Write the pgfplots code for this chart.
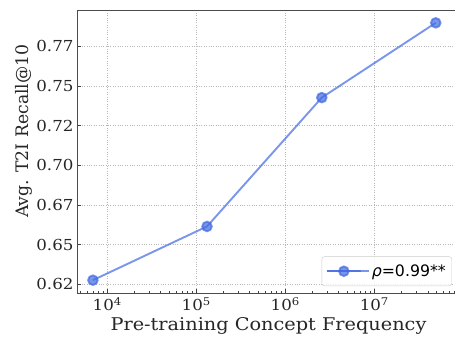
\documentclass[border=0pt]{standalone}
\usepackage{pgfplots}
\pgfplotsset{compat=1.18}
\usepackage{fontspec}
\setmainfont{DejaVu Serif}[FakeStretch=1.1]
\newfontfamily\ylabfont{DejaVu Serif}
\newfontfamily\legendfont{DejaVu Sans}
\definecolor{lineblue}{RGB}{65,105,225}

\begin{document}
\begin{tikzpicture}[x=1bp,y=1bp]
\path[use as bounding box] (0,0) rectangle (455,337);
\begin{axis}[
  at={(77bp,44bp)}, anchor=south west,
  scale only axis, width=383bp, height=283bp,
  xmode=log, xmin=4571, xmax=9.18e7,
  ymin=0.6194, ymax=0.798,
  xtick={1e4,1e5,1e6,1e7},
  xticklabels={10\textsuperscript{4},10\textsuperscript{5},10\textsuperscript{6},10\textsuperscript{7}},
  minor xtick={5000,6000,7000,8000,9000,
    20000,30000,40000,50000,60000,70000,80000,90000,
    2e5,3e5,4e5,5e5,6e5,7e5,8e5,9e5,
    2e6,3e6,4e6,5e6,6e6,7e6,8e6,9e6,
    2e7,3e7,4e7,5e7,6e7,7e7,8e7,9e7},
  ytick={0.625,0.65,0.675,0.7,0.725,0.75,0.775},
  yticklabels={0.62,0.65,0.67,0.70,0.72,0.75,0.77},
  tick align=inside,
  xtick pos=left, ytick pos=left,
  major tick length=4bp, minor tick length=2.2bp,
  tick style={black!75, line width=0.8bp},
  axis line style={black!70, line width=0.9bp},
  xmajorgrids, ymajorgrids,
  major grid style={dotted, black!28, line width=0.6bp},
  tick label style={font=\fontsize{15.2}{18}\selectfont, black!85},
  xticklabel style={yshift=-1bp},
  label style={black!85},
  xlabel={Pre-training Concept Frequency},
  ylabel={Avg. T2I Recall@10},
  xlabel style={font=\fontsize{17.6}{20}\selectfont, at={(axis description cs:0.5,-0.118)}, anchor=center},
  ylabel style={font=\ylabfont\fontsize{17.3}{20}\selectfont, at={(axis description cs:-0.1397,0.572)}, anchor=center},
  legend style={at={(axis description cs:0.979,0.0247)}, anchor=south east,
    draw=black!20, rounded corners=2.5bp, fill=white, fill opacity=0.8, text opacity=1,
    font=\legendfont\fontsize{15.8}{18}\selectfont, inner xsep=4bp, inner ysep=6bp},
  legend image code/.code={%
    \path (0bp,0bp) -- (42bp,0bp);
    \draw[mark repeat=2,mark phase=2,#1] plot coordinates {(0bp,0bp) (17bp,0bp) (34bp,0bp)};},
  legend cell align=left,
]
\addplot[color=lineblue, draw opacity=0.7, line width=1.9bp, mark=*, mark size=4.8bp,
  mark options={fill=lineblue, fill opacity=0.7, draw opacity=0.7}]
  coordinates {
    (6900,0.6275)
    (1.32e5,0.6614)
    (2.57e6,0.7427)
    (4.9e7,0.7899)
  };
\addlegendentry{{\itshape ρ}=0.99**}
\end{axis}
\end{tikzpicture}
\end{document}
